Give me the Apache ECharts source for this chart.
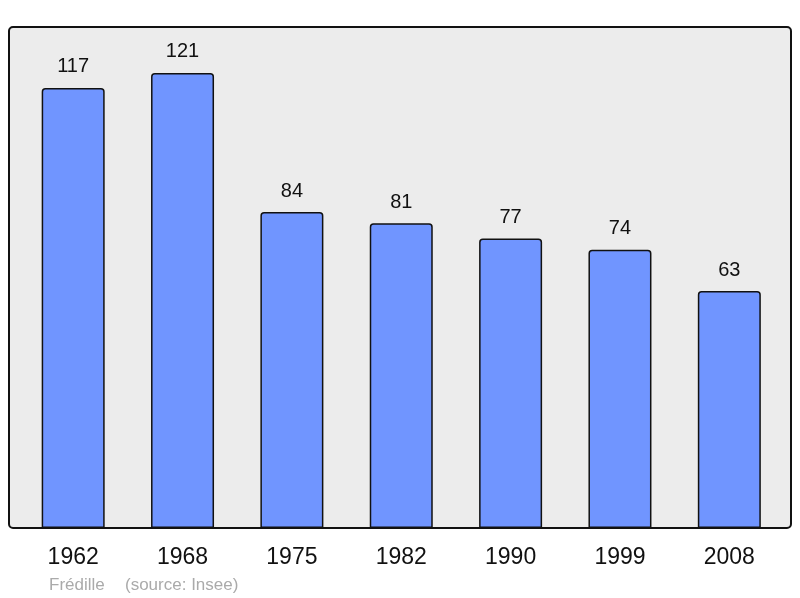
<!DOCTYPE html>
<html>
<head>
<meta charset="utf-8">
<script src="https://cdn.jsdelivr.net/npm/echarts@6/dist/echarts.min.js"></script>
<style>html,body{margin:0;padding:0;background:#fff;}#c{width:800px;height:598px;}</style>
</head>
<body>
<div id="c"></div>
<script>
const categories = ['1962', '1968', '1975', '1982', '1990', '1999', '2008'];
const population = [117, 121, 84, 81, 77, 74, 63];
const footerAuthor = 'Frédille';
const footerSource = '(source: Insee)';

const chart = echarts.init(document.getElementById('c'));
chart.setOption({
  animation: false,
  backgroundColor: '#ffffff',
  graphic: [
    {
      type: 'rect', z: -10, silent: true,
      shape: { x: 9, y: 27, width: 782, height: 501, r: 4 },
      style: { fill: '#ececec', stroke: '#111', lineWidth: 2 }
    },
    {
      type: 'text', left: 49, top: 577,
      style: { text: footerAuthor, fill: '#aaaaaa', font: '17px "Liberation Sans", Arial, sans-serif' }
    },
    {
      type: 'text', left: 125, top: 577,
      style: { text: footerSource, fill: '#aaaaaa', font: '17px "Liberation Sans", Arial, sans-serif' }
    }
  ],
  grid: { left: 18.5, right: 16, top: 27, bottom: 70, containLabel: false },
  xAxis: {
    type: 'category',
    data: categories,
    axisLine: { show: false },
    axisTick: { show: false },
    axisLabel: {
      margin: 18, color: '#111', fontSize: 23,
      fontFamily: '"Liberation Sans", Arial, sans-serif'
    }
  },
  yAxis: {
    type: 'value', min: 0, max: 133.2,
    show: false, splitLine: { show: false }
  },
  series: [{
    type: 'bar',
    data: population,
    barWidth: 63,
    itemStyle: { color: '#7095ff', borderColor: '#111', borderWidth: 1.5, borderRadius: [3, 3, 0, 0] },
    label: {
      show: true, position: 'top', distance: 11,
      color: '#111', fontSize: 20,
      fontFamily: '"Liberation Sans", Arial, sans-serif'
    }
  }]
});
</script>
</body>
</html>
